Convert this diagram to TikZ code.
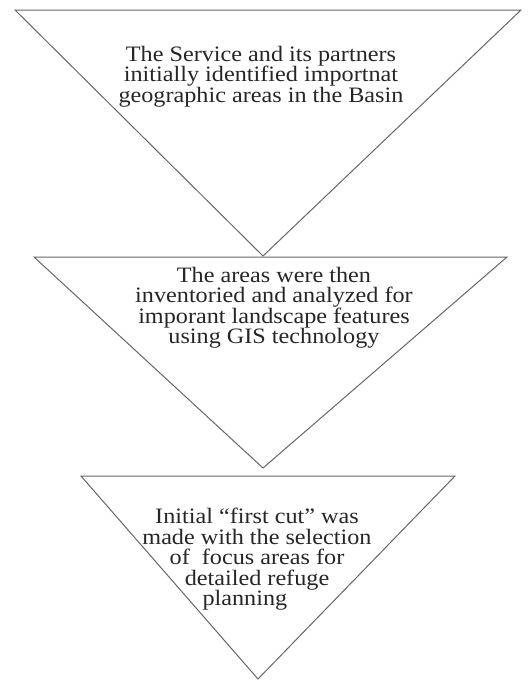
\documentclass[tikz,border=0pt]{standalone}
\usepackage{fontspec}
\newfontfamily\tfont[FakeStretch=1.1]{Liberation Serif}
\begin{document}
\begin{tikzpicture}[x=1pt,y=-1pt,
  tri/.style={draw=black!60, line width=1pt, line join=miter},
  label/.style={align=center, inner sep=0pt, anchor=north, text=black!85,
    font=\tfont\fontsize{22}{20.5}\selectfont}]
\useasboundingbox (0,0) rectangle (531,681);
% triangle 1
\coordinate (t1l) at (15,10);
\coordinate (t1r) at (521,10);
\coordinate (t1b) at (263,256);
\draw[tri] (t1l) -- (t1r) -- (t1b) -- cycle;
\node[label] (txt1) at (261,46) {The Service and its partners\\initially identified importnat\\geographic areas in the Basin};
% triangle 2
\coordinate (t2l) at (34,257);
\coordinate (t2r) at (507,257);
\coordinate (t2b) at (263,468);
\draw[tri] (t2l) -- (t2r) -- (t2b) -- cycle;
\node[label] (txt2) at (274,267) {The areas were then\\inventoried and analyzed for\\imporant landscape features\\using GIS technology};
% triangle 3
\coordinate (t3l) at (81,476);
\coordinate (t3r) at (455,476);
\coordinate (t3b) at (258,679);
\draw[tri] (t3l) -- (t3r) -- (t3b) -- cycle;
\node[label] (txt3) at (257,508) {Initial “first cut” was\\made with the selection\\of~ focus areas for\\detailed refuge\\planning\hspace*{1.1em}};
\end{tikzpicture}
\end{document}
